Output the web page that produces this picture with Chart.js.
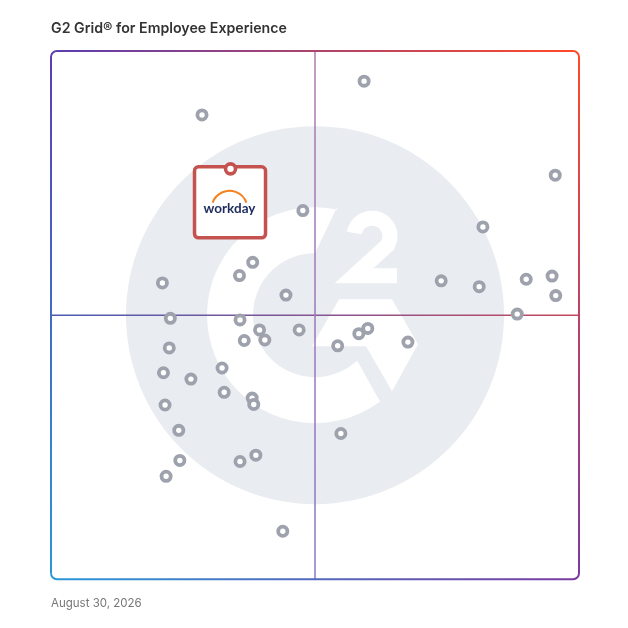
<!DOCTYPE html>
<html>
<head>
<meta charset="utf-8">
<title>G2 Grid for Employee Experience</title>
<script src="https://cdn.jsdelivr.net/npm/chart.js@4.4.1/dist/chart.umd.min.js"></script>
<style>
  html, body { margin: 0; padding: 0; background: #fff; }
  #wrap { width: 628px; height: 628px; }
</style>
</head>
<body>
<div id="wrap"><canvas id="grid" width="628" height="628"></canvas></div>
<script>
  // Satisfaction (x) and Market Presence (y), 0-100
  const satisfaction = [59.3, 28.6, 95.5, 47.7, 81.8, 38.2, 35.7, 21.1, 44.5, 73.9,
    81.1, 90.0, 94.9, 95.6, 88.3, 22.6, 35.8, 39.5, 47.0, 60.0,
    58.3, 36.6, 40.5, 54.3, 67.6, 22.4, 32.4, 21.3, 26.5, 32.8,
    38.1, 38.4, 21.6, 24.2, 54.9, 24.4, 35.8, 38.8, 21.8, 43.9];
  const marketPresence = [94.3, 87.9, 76.5, 69.8, 66.7, 60.0, 57.5, 56.1, 53.8, 56.5,
    55.4, 56.8, 57.4, 53.7, 50.2, 49.4, 49.1, 47.2, 47.2, 47.5,
    46.5, 45.2, 45.3, 44.2, 44.9, 43.8, 40.0, 39.1, 37.9, 35.4,
    34.3, 33.1, 33.0, 28.2, 27.6, 22.5, 22.3, 23.5, 19.5, 9.1];

  // highlighted product
  const highlightName = "workday";
  const highlightX = [34.0];
  const highlightY = [77.7];

  const axisMin = 0;
  const axisMax = 100;

  const rad = d => d * Math.PI / 180;

  // Grey G2 watermark + quadrant lines behind the points
  const g2Background = {
    id: "g2Background",
    beforeDatasetsDraw(chart) {
      const { ctx, chartArea: a } = chart;
      const cx = (a.left + a.right) / 2;
      const cy = (a.top + a.bottom) / 2;
      ctx.save();

      ctx.fillStyle = "#e9ecf0";
      ctx.beginPath();
      ctx.arc(cx, cy, 189, 0, Math.PI * 2);
      ctx.fill();

      ctx.fillStyle = "#ffffff";
      // the G ring
      ctx.beginPath();
      ctx.moveTo(cx + 22, cy - 108);
      ctx.arc(cx, cy, 108, rad(-78), rad(53), true);
      ctx.lineTo(cx + 42, cy + 45);
      ctx.arc(cx, cy, 62, rad(47), rad(-90), false);
      ctx.closePath();
      ctx.fill();

      // the chevron
      ctx.beginPath();
      ctx.moveTo(cx + 24, cy - 16);
      ctx.lineTo(cx + 77, cy - 16);
      ctx.lineTo(cx + 103, cy + 29);
      ctx.lineTo(cx + 77, cy + 76);
      ctx.lineTo(cx + 51, cy + 31);
      ctx.lineTo(cx - 3, cy + 31);
      ctx.closePath();
      ctx.fill();

      // the little "2"
      ctx.strokeStyle = "#ffffff";
      ctx.lineWidth = 15;
      ctx.lineCap = "butt";
      ctx.lineJoin = "miter";
      ctx.beginPath();
      ctx.arc(cx + 57, cy - 79, 18, rad(190), rad(30), false);
      ctx.lineTo(cx + 39, cy - 39.5);
      ctx.lineTo(cx + 82, cy - 39.5);
      ctx.stroke();

      // quadrant lines
      ctx.lineWidth = 1.5;
      let g = ctx.createLinearGradient(a.left, 0, a.right, 0);
      g.addColorStop(0, "#4a5db3");
      g.addColorStop(0.5, "#845592");
      g.addColorStop(1, "#c8475c");
      ctx.strokeStyle = g;
      ctx.beginPath();
      ctx.moveTo(a.left, cy);
      ctx.lineTo(a.right, cy);
      ctx.stroke();

      g = ctx.createLinearGradient(0, a.top, 0, a.bottom);
      g.addColorStop(0, "#b07aae");
      g.addColorStop(1, "#8777c6");
      ctx.strokeStyle = g;
      ctx.beginPath();
      ctx.moveTo(cx, a.top);
      ctx.lineTo(cx, a.bottom);
      ctx.stroke();

      ctx.restore();
    }
  };

  // Workday card, drawn after the grey points but under the red point
  const highlightCard = {
    id: "highlightCard",
    afterDatasetDraw(chart, args) {
      if (args.index !== 1) return;
      const pt = chart.getDatasetMeta(0).data[0];
      if (!pt) return;
      const { ctx } = chart;
      const x = pt.x, y = pt.y;
      ctx.save();
      ctx.beginPath();
      ctx.roundRect(x - 36, y - 2, 71, 71, 4);
      ctx.fillStyle = "#ffffff";
      ctx.fill();
      ctx.lineWidth = 3.5;
      ctx.strokeStyle = "#c4524f";
      ctx.stroke();

      // logo: orange arc over the wordmark
      ctx.beginPath();
      ctx.arc(x - 1, y + 40, 18, rad(200), rad(340), false);
      ctx.lineWidth = 2;
      ctx.strokeStyle = "#f5821f";
      ctx.stroke();

      ctx.fillStyle = "#1d2c5c";
      ctx.font = "700 13.5px Lato";
      ctx.textAlign = "center";
      ctx.textBaseline = "alphabetic";
      ctx.fillText(highlightName, x - 1, y + 44);
      ctx.restore();
    }
  };

  // gradient frame round the grid
  const gridFrame = {
    id: "gridFrame",
    afterDraw(chart) {
      const { ctx, chartArea: a } = chart;
      const L = a.left, T = a.top, R = a.right, B = a.bottom, r = 6;
      const tl = "#5b3eb0", tr = "#ff4a28", bl = "#2a98d8", br = "#7b3aa2";
      ctx.save();
      ctx.lineWidth = 2;

      function side(path, x0, y0, x1, y1, c0, c1) {
        const g = ctx.createLinearGradient(x0, y0, x1, y1);
        g.addColorStop(0, c0);
        g.addColorStop(1, c1);
        ctx.strokeStyle = g;
        ctx.beginPath();
        path();
        ctx.stroke();
      }

      side(() => {
        ctx.moveTo(L, T + r);
        ctx.arcTo(L, T, L + r, T, r);
        ctx.lineTo(R - r, T);
        ctx.arcTo(R, T, R, T + r, r);
      }, L, T, R, T, tl, tr);
      side(() => {
        ctx.moveTo(R, T + r);
        ctx.lineTo(R, B - r);
        ctx.arcTo(R, B, R - r, B, r);
      }, R, T, R, B, tr, br);
      side(() => {
        ctx.moveTo(R - r, B);
        ctx.lineTo(L + r, B);
        ctx.arcTo(L, B, L, B - r, r);
      }, L, B, R, B, bl, br);
      side(() => {
        ctx.moveTo(L, B - r);
        ctx.lineTo(L, T + r);
      }, L, T, L, B, tl, bl);
      ctx.restore();
    }
  };

  new Chart(document.getElementById("grid"), {
    type: "scatter",
    data: {
      datasets: [{
        label: "Workday",
        data: highlightX.map((x, i) => ({ x: x, y: highlightY[i] })),
        pointRadius: 5,
        pointBorderWidth: 3.6,
        pointBorderColor: "#c4524f",
        pointBackgroundColor: "#ffffff"
      }, {
        label: "Products",
        data: satisfaction.map((x, i) => ({ x: x, y: marketPresence[i] })),
        pointRadius: 4.6,
        pointBorderWidth: 3.8,
        pointBorderColor: "#9ea2ad",
        pointBackgroundColor: "#ffffff"
      }]
    },
    options: {
      responsive: false,
      animation: false,
      events: [],
      layout: {
        padding: { left: 51, right: 49, top: 20, bottom: 17.6 }
      },
      scales: {
        x: { type: "linear", min: axisMin, max: axisMax, display: false },
        y: { type: "linear", min: axisMin, max: axisMax, display: false }
      },
      plugins: {
        legend: { display: false },
        tooltip: { enabled: false },
        title: {
          display: true,
          text: "G2 Grid® for Employee Experience",
          align: "start",
          color: "#333333",
          font: { family: "Inter", size: 14.2, weight: "600" },
          padding: { top: 0, bottom: 14 }
        },
        subtitle: {
          display: true,
          position: "bottom",
          text: "August 30, 2026",
          align: "start",
          color: "#767676",
          font: { family: "Inter", size: 11.5, weight: "400" },
          padding: { top: 17.3, bottom: 0 }
        }
      }
    },
    plugins: [g2Background, highlightCard, gridFrame]
  });
</script>
</body>
</html>
